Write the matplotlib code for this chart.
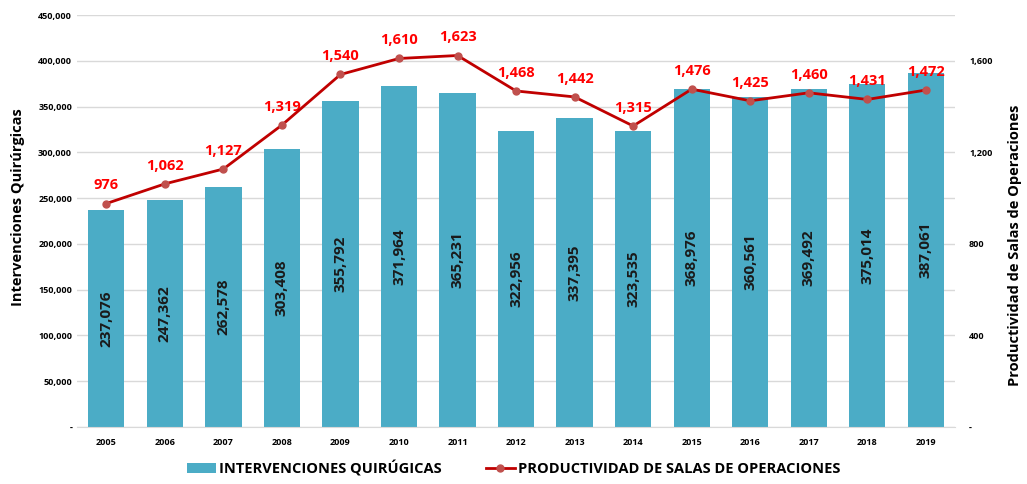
import matplotlib.pyplot as plt
from matplotlib.ticker import FuncFormatter

plt.rcParams['font.family'] = ['Open Sans', 'DejaVu Sans']

years = ['2005', '2006', '2007', '2008', '2009', '2010', '2011', '2012',
         '2013', '2014', '2015', '2016', '2017', '2018', '2019']
intervenciones = [237076, 247362, 262578, 303408, 355792, 371964, 365231, 322956,
                  337395, 323535, 368976, 360561, 369492, 375014, 387061]
productividad = [976, 1062, 1127, 1319, 1540, 1610, 1623, 1468,
                 1442, 1315, 1476, 1425, 1460, 1431, 1472]

fig = plt.figure(figsize=(10.27, 4.84), dpi=100)
ax = fig.add_axes([0.075, 0.118, 0.855, 0.851])
ax2 = ax.twinx()

x = list(range(len(years)))
bars = ax.bar(x, intervenciones, width=0.62, color='#4BACC6', zorder=2,
              label='INTERVENCIONES QUIRÚGICAS')
for i, v in enumerate(intervenciones):
    ax.text(i, v / 2, f'{v:,}', rotation=90, ha='center', va='center',
            fontsize=11, fontweight='bold', color='#1a1a1a', zorder=3)

ax.set_xlim(-0.5, len(years) - 0.5)
ax.set_ylim(0, 450000)
ax.set_yticks(range(0, 450001, 50000))
ax.yaxis.set_major_formatter(FuncFormatter(lambda v, p: '-' if v == 0 else f'{int(v):,}'))
ax.grid(axis='y', color='#d9d9d9', linewidth=1, zorder=0)
ax.set_axisbelow(True)
ax.set_xticks(x)
ax.set_xticklabels(years)
for s in ['top', 'left', 'right']:
    ax.spines[s].set_visible(False)
ax.spines['bottom'].set_color('#d9d9d9')
ax.tick_params(axis='both', length=0, labelsize=6.5)
ax.tick_params(axis='x', pad=8)
for lbl in ax.get_xticklabels() + ax.get_yticklabels():
    lbl.set_fontweight('bold')
ax.set_ylabel('Intervenciones Quirúrgicas', fontsize=10.5, fontweight='bold')
ax.yaxis.set_label_coords(-0.059, 0.534)

line, = ax2.plot(x, productividad, color='#C00000', linewidth=2, marker='o',
                 markersize=5, markerfacecolor='#C0504D', markeredgecolor='#C0504D',
                 zorder=4, label='PRODUCTIVIDAD DE SALAS DE OPERACIONES')
for i, v in enumerate(productividad):
    ax2.annotate(f'{v:,}', (i, v), xytext=(0, 8), textcoords='offset points',
                 ha='center', va='bottom', fontsize=10.5, fontweight='bold', color='#FF0000')
ax2.set_ylim(0, 1800)
ax2.set_yticks([0, 400, 800, 1200, 1600])
ax2.yaxis.set_major_formatter(FuncFormatter(lambda v, p: '-' if v == 0 else f'{int(v):,}'))
for s in ['top', 'left', 'right', 'bottom']:
    ax2.spines[s].set_visible(False)
ax2.tick_params(axis='y', length=0, labelsize=6.5, pad=10)
for lbl in ax2.get_yticklabels():
    lbl.set_fontweight('bold')
ax2.set_ylabel('Productividad de Salas de Operaciones', fontsize=10.5, fontweight='bold')
ax2.yaxis.set_label_coords(1.06, 0.44)

fig.legend([bars, line], [bars.get_label(), line.get_label()], loc='center',
           bbox_to_anchor=(0.5, 0.033), ncol=2, frameon=False,
           prop={'size': 10.5, 'weight': 'bold'},
           handlelength=2.0, columnspacing=3, handletextpad=0.2)

fig.savefig('out.png', dpi=100)
